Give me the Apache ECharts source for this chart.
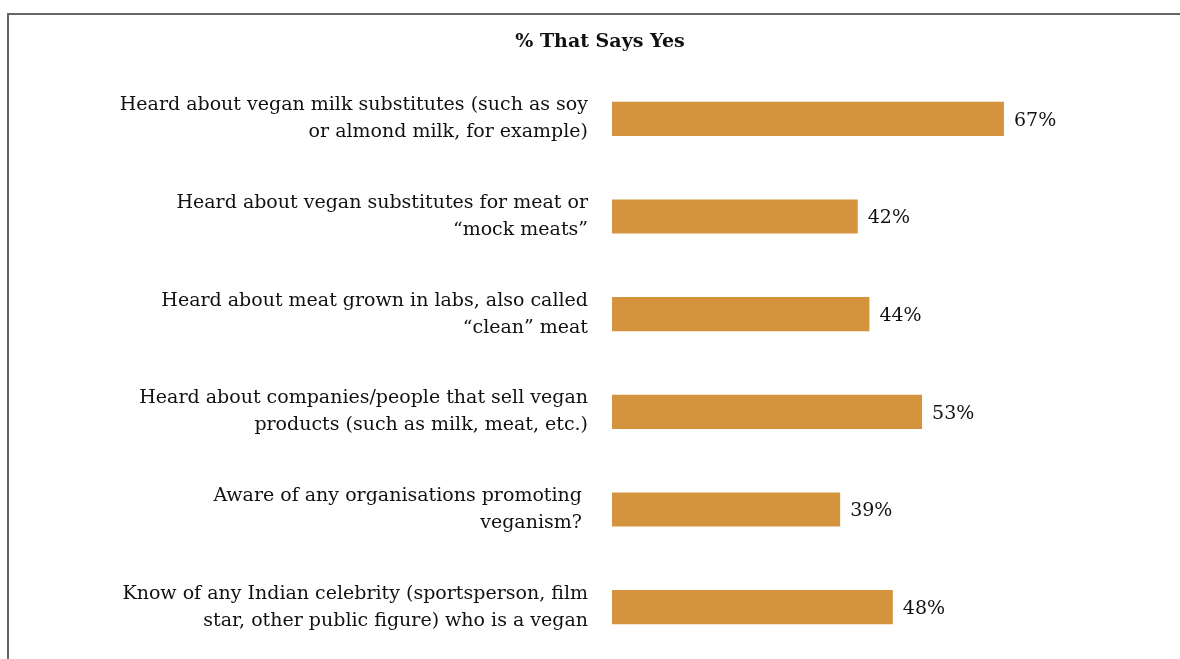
<!DOCTYPE html>
<html>
<head>
<meta charset="utf-8">
<script src="https://cdn.jsdelivr.net/npm/echarts@6/dist/echarts.min.js"></script>
<style>
  html, body { margin: 0; padding: 0; background: #ffffff; }
  #chart { width: 1180px; height: 659px; }
</style>
</head>
<body>
<div id="chart"></div>
<script>
// Survey items, top to bottom
const categories = [
  'Heard about vegan milk substitutes (such as soy\nor almond milk, for example)',
  'Heard about vegan substitutes for meat or\n\u201cmock meats\u201d',
  'Heard about meat grown in labs, also called\n\u201cclean\u201d meat',
  'Heard about companies/people that sell vegan\nproducts (such as milk, meat, etc.)',
  'Aware of any organisations promoting \nveganism? ',
  'Know of any Indian celebrity (sportsperson, film\nstar, other public figure) who is a vegan'
];
// Share answering yes, in percent
const yesShare = [67, 42, 44, 53, 39, 48];
const chartTitle = '% That Says Yes';

const FONT = 'DejaVu Serif';
const chart = echarts.init(document.getElementById('chart'), null, { renderer: 'canvas' });

chart.setOption({
  animation: false,
  backgroundColor: '#ffffff',
  title: {
    text: chartTitle,
    left: 595,
    top: 28,
    textAlign: 'center',
    textStyle: { fontFamily: FONT, fontWeight: 'bold', fontSize: 19, color: '#111111' }
  },
  graphic: [{
    type: 'rect',
    shape: { x: 8, y: 14, width: 1200, height: 700 },
    style: { fill: 'none', stroke: '#666666', lineWidth: 2 },
    silent: true
  }],
  grid: { left: 612, top: 70, width: 468, height: 586, containLabel: false },
  xAxis: {
    type: 'value', min: 0, max: 80,
    show: false
  },
  yAxis: {
    type: 'category',
    inverse: true,
    data: categories,
    axisLine: { show: false },
    axisTick: { show: false },
    splitLine: { show: false },
    axisLabel: {
      margin: 24,
      align: 'right',
      fontFamily: FONT,
      fontSize: 19,
      lineHeight: 27,
      color: '#111111'
    }
  },
  series: [{
    type: 'bar',
    data: yesShare,
    barCategoryGap: '65%',
    itemStyle: { color: '#D3943D' },
    label: {
      show: true,
      position: 'right',
      distance: 10,
      offset: [0, 2],
      formatter: '{c}%',
      fontFamily: FONT,
      fontSize: 19,
      color: '#111111'
    }
  }]
});
</script>
</body>
</html>
